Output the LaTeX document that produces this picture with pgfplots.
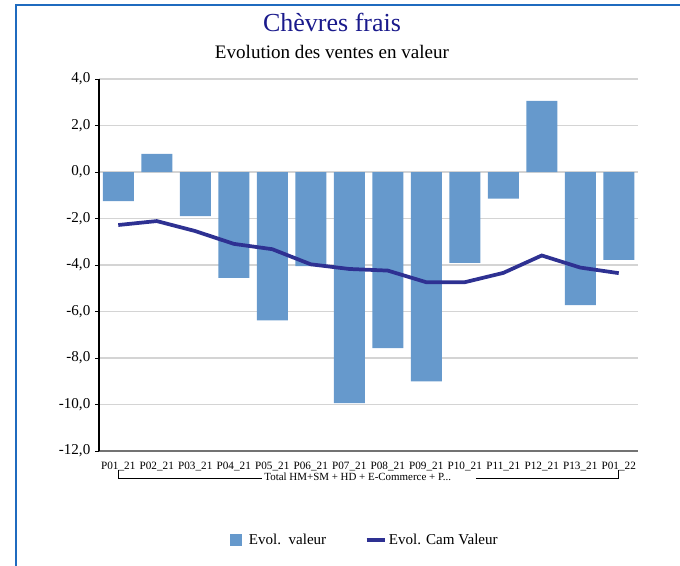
\documentclass[border=0pt]{standalone}
\usepackage{pgfplots}
\pgfplotsset{compat=1.18}
\usepackage{fontspec}
\setmainfont{Liberation Serif}
\definecolor{barblue}{HTML}{6699CC}
\definecolor{linecol}{HTML}{2E3192}
\definecolor{titleblue}{HTML}{1A1A8C}
\definecolor{framecol}{HTML}{1F6BBF}
\begin{document}
\begin{tikzpicture}[x=0.75pt,y=-0.75pt]
\path[use as bounding box] (0,0) rectangle (680,565);
\draw[framecol, line width=1.5pt] (16,566) -- (16,4.5) -- (681,4.5);
\node[titleblue, font=\fontsize{19.5}{22}\selectfont] at (332,22) {Chèvres frais};
\node[font=\fontsize{14.3}{16}\selectfont] at (332,52) {Evolution des ventes en valeur};
\begin{axis}[
  at={(74.25pt,-338.25pt)}, anchor=south west,
  scale only axis, width=404.25pt, height=279pt,
  xmin=-0.5, xmax=13.5, ymin=-12, ymax=4,
  ytick={-12,-10,...,4},
  xtick={0,...,13},
  xticklabels={P01\_21,P02\_21,P03\_21,P04\_21,P05\_21,P06\_21,P07\_21,P08\_21,P09\_21,P10\_21,P11\_21,P12\_21,P13\_21,P01\_22},
  x tick label style={font=\fontsize{8.4}{10}\selectfont, yshift=-2pt},
  y tick label style={font=\fontsize{11.3}{13}\selectfont},
  yticklabel style={/pgf/number format/.cd, fixed, fixed zerofill, precision=1, use comma, assume math mode=true},
  axis x line*=bottom, axis y line*=left,
  axis line style={-},
  x axis line style={draw=black!55, line width=1pt},
  y axis line style={draw=black, line width=0.9pt},
  xtick style={draw=none},
  ytick style={draw=black, line width=0.6pt},
  tick align=outside, major tick length=3pt,
  ymajorgrids, major grid style={draw=black!17, line width=0.9pt},
  clip=false,
  legend style={at={(0.494,-0.239)}, anchor=center, draw=none, fill=none,
    font=\fontsize{11.3}{13}\selectfont, legend columns=2,
    /tikz/every even column/.append style={column sep=27pt}},
]
\addplot[ybar, bar width=23.25pt, fill=barblue, draw=none,
  legend image code/.code={\fill[barblue] (0pt,-4.5pt) rectangle (9pt,4.5pt); \path (12pt,0pt);}]
  coordinates {(0,-1.25) (1,0.78) (2,-1.9) (3,-4.55) (4,-6.38) (5,-4.05) (6,-9.94)
               (7,-7.57) (8,-9.0) (9,-3.91) (10,-1.15) (11,3.06) (12,-5.73) (13,-3.78)};
\addlegendentry{Evol.\ \ valeur}
\addplot[linecol, line width=2.8pt, no marks,
  legend image code/.code={\draw[linecol,line width=2.5pt] (0pt,0pt) -- (13.5pt,0pt);}]
  coordinates {(0,-2.28) (1,-2.11) (2,-2.54) (3,-3.09) (4,-3.32) (5,-3.97) (6,-4.17)
               (7,-4.24) (8,-4.74) (9,-4.74) (10,-4.34) (11,-3.59) (12,-4.11) (13,-4.35)};
\addlegendentry{Evol. Cam Valeur}
\draw[black, line width=0.6pt] ([yshift=-14.25pt]axis cs:0,-12) -- ([yshift=-20.25pt]axis cs:0,-12) -- ([yshift=-20.25pt]axis cs:3.73,-12);
\draw[black, line width=0.6pt] ([yshift=-20.25pt]axis cs:9.29,-12) -- ([yshift=-20.25pt]axis cs:13,-12) -- ([yshift=-14.25pt]axis cs:13,-12);
\node[anchor=west, font=\fontsize{8.2}{9}\selectfont, inner sep=0pt] at ([yshift=-19.5pt]axis cs:3.79,-12) {Total HM+SM + HD + E-Commerce + P...};
\end{axis}
\end{tikzpicture}
\end{document}
